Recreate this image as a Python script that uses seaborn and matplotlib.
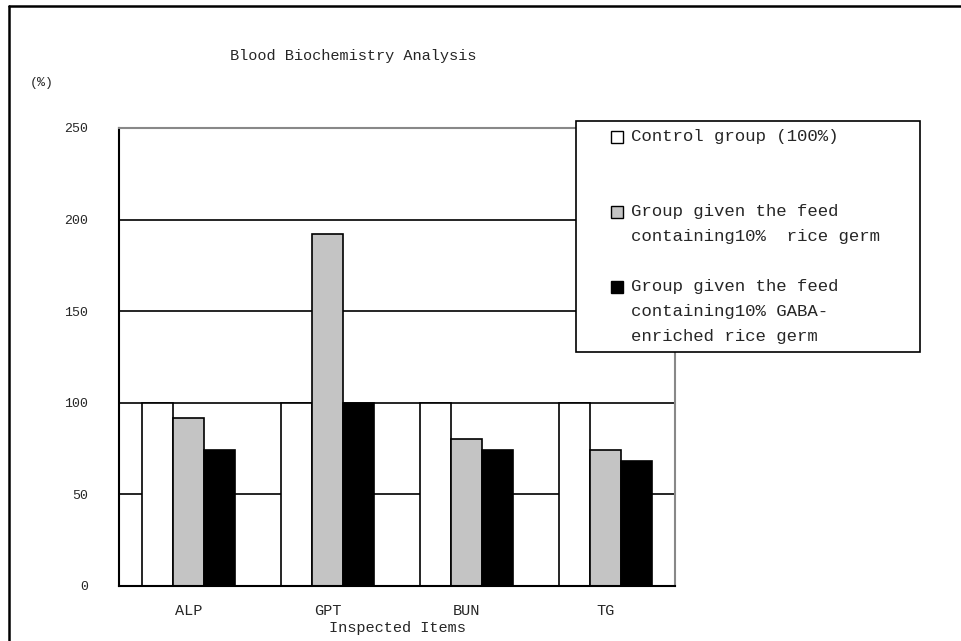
import numpy as np
import pandas as pd
import matplotlib.pyplot as plt
import seaborn as sns
from matplotlib.lines import Line2D
from matplotlib.patches import Rectangle

# Data (% of control)
items = ['ALP', 'GPT', 'BUN', 'TG']
groups = ['Control group (100%)',
          'Group given the feed\ncontaining10%  rice germ',
          'Group given the feed\ncontaining10% GABA-\nenriched rice germ']
control = [100, 100, 100, 100]
rice_germ = [91.5, 192, 80, 74]
gaba_germ = [74, 100, 74, 68.5]
colors = ['white', '#c4c4c4', 'black']
y_ticks = [0, 50, 100, 150, 200, 250]

df = pd.DataFrame({
    'item': items * 3,
    'group': np.repeat(groups, len(items)),
    'value': control + rice_germ + gaba_germ,
})

sns.set_style('white')
plt.rcParams['font.family'] = ['Liberation Mono', 'DejaVu Sans']

W, H = 962, 641
def fx(x):
    return x / W
def fy(y):
    return 1 - y / H

fig = plt.figure(figsize=(W / 100, H / 100), dpi=100)
ax = fig.add_axes([fx(119), fy(586), 556 / W, 458 / H])

sns.barplot(data=df, x='item', y='value', hue='group', hue_order=groups,
            palette=colors, width=0.67, edgecolor='black', linewidth=1.2,
            saturation=1, legend=False, ax=ax)

ax.set_xlim(-0.5, len(items) - 0.5)
ax.set_ylim(0, 250)
ax.set_yticks(y_ticks)
ax.set_axisbelow(True)
ax.yaxis.grid(True, color='black', linewidth=1.2)
ax.yaxis.get_gridlines()[-1].set_visible(False)

ax.set_xlabel('')
ax.set_ylabel('')
ax.tick_params(axis='y', length=0, pad=22, labelsize=9.5)
ax.tick_params(axis='x', which='major', length=0, pad=13, labelsize=11)
ax.set_xticks(np.arange(len(items) - 1) + 0.5, minor=True)
ax.tick_params(axis='x', which='minor', direction='in', length=4, width=1.2,
               color='black')

for side in ['left', 'bottom']:
    ax.spines[side].set_color('black')
    ax.spines[side].set_linewidth(1.5)
for side in ['top', 'right']:
    ax.spines[side].set_color('#888888')
    ax.spines[side].set_linewidth(1.5)

fig.text(fx(353), fy(56), 'Blood Biochemistry Analysis', ha='center',
         va='center', fontsize=11)
fig.text(fx(42), fy(83), '(%)', ha='center', va='center', fontsize=9.5)
fig.text(fx(397), fy(628), 'Inspected Items', ha='center', va='center',
         fontsize=11)

# legend box drawn on top of the plot
fig.add_artist(Rectangle((fx(576), fy(352)), 344 / W, 231 / H,
                         transform=fig.transFigure, facecolor='white',
                         edgecolor='black', linewidth=1.2, zorder=5))
entry_y = [137, 212, 287]
for label, color, y0 in zip(groups, colors, entry_y):
    fig.add_artist(Rectangle((fx(611), fy(y0 + 6)), 12 / W, 12 / H,
                             transform=fig.transFigure, facecolor=color,
                             edgecolor='black', linewidth=1, zorder=6))
    fig.text(fx(631), fy(y0 - 8), label, ha='left', va='top', fontsize=12.5,
             linespacing=1.85, zorder=6)

# outer frame of the picture
fig.add_artist(Line2D([fx(9), fx(9)], [0, fy(6)], transform=fig.transFigure,
                      color='black', linewidth=1.8))
fig.add_artist(Line2D([fx(9), 1], [fy(6), fy(6)], transform=fig.transFigure,
                      color='black', linewidth=1.8))

fig.savefig('out.png', dpi=100)
